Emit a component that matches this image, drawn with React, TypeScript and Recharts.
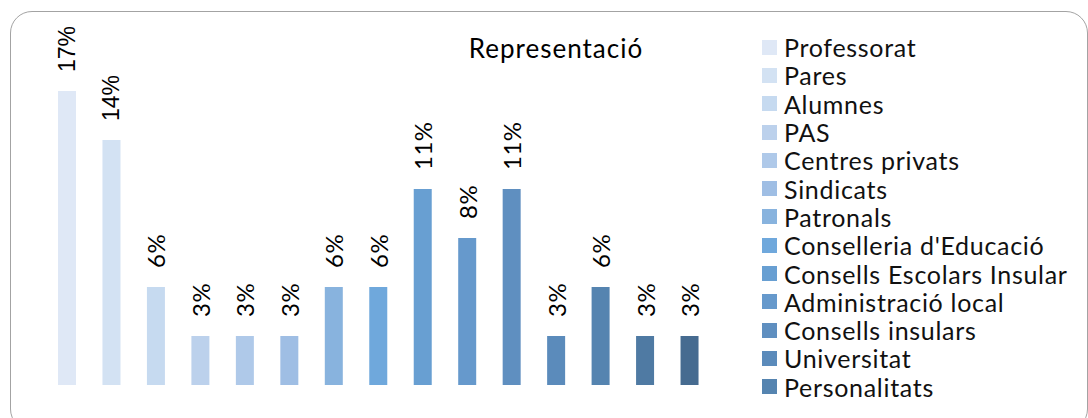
import { BarChart, Bar, XAxis, YAxis, Cell, LabelList } from "recharts";

// Members per group (bar heights). Labels show share of total.
// The legend in the original is clipped after 13 entries, the last two groups are not named there.
const groups = [
    "Professorat",
    "Pares",
    "Alumnes",
    "PAS",
    "Centres privats",
    "Sindicats",
    "Patronals",
    "Conselleria d'Educació",
    "Consells Escolars Insular",
    "Administració local",
    "Consells insulars",
    "Universitat",
    "Personalitats",
    "Grup 14",
    "Grup 15",
];
const members = [6, 5, 2, 1, 1, 1, 2, 2, 4, 3, 4, 1, 2, 1, 1];
const shownInLegend = 13;

const colors = [
    "#dfe8f6", "#d3e2f3", "#c6daf0", "#bcd1ec", "#afc9e9",
    "#9fbee4", "#88b3de", "#6fa8dc", "#689fd2", "#6699cc",
    "#5f8fc0", "#5b8bbb", "#5584b0", "#4f7aa3", "#466b90",
];

const total = members.reduce((a, b) => a + b, 0);
const data = groups.map((name, i) => ({ name, value: members[i] }));

const W = 1088;
const H = 418;

function VerticalLabel(props: any) {
    const { x, y, width, value, index } = props;
    const cx = x + width / 2;
    const cy = y - 19;
    const pct = Math.round((value / total) * 100) + "%";
    return (
        <text
            x={cx}
            y={cy}
            transform={`rotate(-90 ${cx} ${cy})`}
            textAnchor="start"
            dominantBaseline="central"
            fontSize={index < 2 ? 23 : 24}
            fontFamily={index < 2 ? "Liberation Sans, Arial, sans-serif" : "Lato, sans-serif"}
            letterSpacing={index < 2 ? 0 : 0.5}
            fill="#000"
        >
            {pct}
        </text>
    );
}

export default function App() {
    return (
        <div style={{ position: "absolute", left: 0, top: 0, width: W, height: H, overflow: "hidden", background: "#fff" }}>
            {/* chart frame */}
            <div
                style={{
                    position: "absolute",
                    left: 10,
                    top: 11,
                    width: 1078,
                    height: 420,
                    boxSizing: "border-box",
                    border: "1.5px solid #a3a3a3",
                    borderRadius: 22,
                }}
            />
            <div
                style={{
                    position: "absolute",
                    left: 456,
                    top: 33,
                    width: 200,
                    textAlign: "center",
                    fontFamily: "Lato, sans-serif",
                    fontSize: 26,
                    letterSpacing: 1,
                    color: "#000",
                    lineHeight: "30px",
                }}
            >
                Representació
            </div>

            <div style={{ position: "absolute", left: 0, top: 0 }}>
                <BarChart width={W} height={H} data={data} margin={{ left: 45, right: 376, top: 42, bottom: 33 }} barSize={18}>
                    <XAxis dataKey="name" tick={false} tickLine={false} height={0} axisLine={{ stroke: "#8c8c8c", strokeWidth: 2 }} />
                    <YAxis hide domain={[0, 7]} />
                    <Bar dataKey="value" isAnimationActive={false}>
                        {data.map((d, i) => (
                            <Cell key={d.name} fill={colors[i]} />
                        ))}
                        <LabelList dataKey="value" content={VerticalLabel} />
                    </Bar>
                </BarChart>
            </div>

            {/* legend: only first 13 entries fit in the original */}
            <div style={{ position: "absolute", left: 762, top: 33, fontFamily: "Lato, sans-serif", fontSize: 25, letterSpacing: 0.7, color: "#111" }}>
                {groups.slice(0, shownInLegend).map((g, i) => (
                    <div key={g} style={{ display: "flex", alignItems: "center", height: 28.3 }}>
                        <span style={{ width: 15, height: 15, background: colors[i], marginRight: 7, flexShrink: 0 }} />
                        <span style={{ whiteSpace: "nowrap", lineHeight: "28px" }}>{g}</span>
                    </div>
                ))}
            </div>
        </div>
    );
}
